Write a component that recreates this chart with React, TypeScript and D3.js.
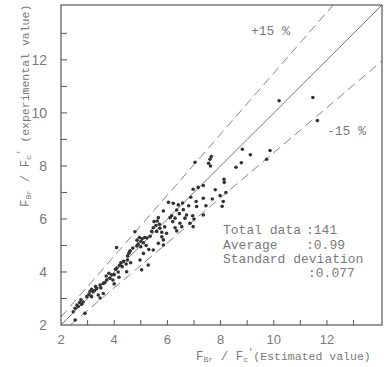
import React from "react";
import * as d3 from "d3";

const estimated: number[] = [
  2.46, 2.53, 2.53, 2.65, 2.7, 2.78, 2.83, 2.9, 2.97, 2.75, 2.6,
  3.09, 3.15, 3.21, 3.27, 3.34, 3.4, 3.47, 3.47, 3.59, 3.59, 3.05, 3.3, 3.15, 3.5,
  3.72, 3.84, 3.9, 3.95, 3.7, 3.8, 4.0, 4.05, 4.09, 4.15, 4.2, 4.1, 3.65, 4.0, 4.18,
  4.3, 4.35, 4.45, 4.47, 4.5, 4.5, 4.55, 4.59, 4.6, 4.25, 4.62, 4.7,
  4.78, 4.86, 4.9, 4.95, 5.0, 5.05, 5.1, 5.15, 5.2, 5.23, 4.97, 5.03, 5.28, 5.0, 4.85, 5.3, 5.1,
  5.41, 5.47, 5.47, 5.57, 5.6, 5.62, 5.66, 5.66, 5.72, 5.79, 5.79, 5.85, 5.85, 5.85, 5.97, 5.35, 5.5, 5.7, 5.9,
  6.04, 6.16, 6.22, 6.29, 6.29, 6.35, 6.41, 6.47, 6.54, 6.57, 6.1, 6.2, 6.45, 6.35, 6.6,
  6.66, 6.72, 6.85, 6.88, 6.95, 6.97, 6.97, 7.0, 7.04, 7.08, 7.1, 7.16, 6.8,
  7.35, 7.35, 7.35, 7.55, 7.6, 7.65, 7.62, 7.69, 7.98, 8.06, 8.1, 8.13, 8.14, 8.2, 7.8, 7.45,
  8.58, 8.78, 8.82, 9.12, 9.73, 9.86, 10.2, 11.47, 11.64,
];

const experimental: number[] = [
  2.5, 2.63, 2.19, 2.7, 2.85, 2.78, 2.87, 2.44, 3.07, 2.95, 2.75,
  3.26, 3.07, 3.26, 3.3, 3.38, 3.13, 3.02, 3.51, 3.19, 3.57, 3.15, 3.45, 3.35, 3.4,
  3.7, 3.76, 3.89, 3.7, 3.85, 3.95, 3.9, 4.1, 4.92, 4.0, 4.25, 4.15, 3.6, 3.55, 3.8,
  4.2, 4.4, 4.3, 4.01, 4.45, 4.6, 4.7, 4.77, 4.8, 4.35, 4.35, 4.9,
  5.52, 5.2, 5.05, 5.3, 4.95, 5.25, 5.1, 5.3, 5.0, 5.28, 4.45, 4.08, 4.26, 5.15, 4.98, 4.85, 4.7,
  5.53, 5.67, 4.83, 5.75, 5.53, 5.92, 6.05, 5.08, 5.65, 5.5, 5.33, 6.3, 5.21, 5.02, 5.46, 5.35, 5.9, 5.8, 5.7,
  6.63, 6.12, 6.59, 6.03, 5.67, 6.34, 6.53, 5.84, 5.71, 6.6, 6.05, 5.9, 6.2, 5.55, 6.35,
  6.03, 6.15, 5.84, 6.82, 6.12, 7.12, 5.71, 6.0, 8.14, 6.66, 6.47, 7.19, 6.5,
  7.26, 6.78, 6.15, 8.1, 8.25, 8.35, 8.0, 6.75, 6.88, 6.48, 6.66, 7.5, 7.38, 7.0, 7.1, 6.5,
  7.95, 8.12, 8.63, 8.42, 8.25, 8.58, 10.46, 10.58, 9.71,
];

const tickValues: number[] = [2, 4, 6, 8, 10, 12];
const minorTicks: number[] = [3, 4, 5, 6, 7, 8, 9, 10, 11, 12, 13];
const bandRatios: number[] = [1.15, 0.85];
const statLabels: string[] = ["Total data", "Average", "Standard deviation"];
const statValues: string[] = [":141", ":0.99", ":0.077"];

const W = 385;
const H = 367;
const LEFT = 61;
const RIGHT = 382;
const TOP = 5;
const BOTTOM = 325;
const DMIN = 2;
const DMAX = 14.07;

export default function App() {
  const x = d3.scaleLinear().domain([DMIN, DMAX]).range([LEFT, RIGHT]);
  const y = d3.scaleLinear().domain([DMIN, DMAX]).range([BOTTOM, TOP]);
  const line = d3
    .line<[number, number]>()
    .x((d) => x(d[0]))
    .y((d) => y(d[1]));

  const points = estimated.map((e, i) => [e, experimental[i]] as [number, number]);

  const bandLine = (r: number): [number, number][] => {
    const x0 = Math.max(DMIN, DMIN / r);
    const x1 = Math.min(DMAX, DMAX / r);
    return [
      [x0, r * x0],
      [x1, r * x1],
    ];
  };

  const mono = "'Liberation Mono', 'DejaVu Sans Mono', monospace";
  const sans = "'Liberation Sans', 'DejaVu Sans', sans-serif";
  const textColor = "#7a7a7a";

  return (
    <svg
      width={W}
      height={H}
      style={{ position: "absolute", left: 0, top: 0, background: "#fff" }}
    >
      <rect x={0} y={0} width={W} height={H} fill="#fff" />
      {/* reference lines */}
      <path d={line([[DMIN, DMIN], [DMAX, DMAX]]) || ""} stroke="#666" strokeWidth={0.9} fill="none" />
      {bandRatios.map((r) => (
        <path
          key={r}
          d={line(bandLine(r)) || ""}
          stroke="#777"
          strokeWidth={0.9}
          strokeDasharray="9,5"
          fill="none"
        />
      ))}
      {/* points */}
      {points.map((p, i) => (
        <circle key={i} cx={x(p[0])} cy={y(p[1])} r={1.8} fill="#333" />
      ))}
      {/* frame */}
      <rect
        x={LEFT}
        y={TOP}
        width={RIGHT - LEFT}
        height={BOTTOM - TOP}
        fill="none"
        stroke="#555"
        strokeWidth={1.2}
      />
      {/* ticks */}
      {minorTicks.map((t) => (
        <g key={"t" + t}>
          <line x1={x(t)} x2={x(t)} y1={BOTTOM} y2={BOTTOM - 5} stroke="#555" strokeWidth={1} />
          <line x1={LEFT} x2={LEFT + 6} y1={y(t)} y2={y(t)} stroke="#555" strokeWidth={1} />
        </g>
      ))}
      {/* tick labels */}
      {tickValues.map((t) => (
        <g key={"l" + t}>
          <text
            x={x(t)}
            y={BOTTOM + 19}
            textAnchor="middle"
            fontFamily={sans}
            fontSize={13}
            fill={textColor}
          >
            {t}
          </text>
          <text
            x={47}
            y={y(t) + 5}
            textAnchor="end"
            fontFamily={sans}
            fontSize={14}
            fill={textColor}
          >
            {t}
          </text>
        </g>
      ))}
      {/* x axis title */}
      <text x={196} y={360} fontFamily={mono} fontSize={11.5} fill={textColor}>
        <tspan fontSize={12.5}>F</tspan>
        <tspan fontSize={8} dy={2}>Br</tspan>
        <tspan dy={-2} fontSize={12.5}> / F</tspan>
        <tspan fontSize={8} dy={2}>c</tspan>
        <tspan fontSize={9} dy={-7}>′</tspan>
        <tspan dy={5}>(Estimated value)</tspan>
      </text>
      {/* y axis title */}
      <text
        transform={`translate(29, 207) rotate(-90)`}
        fontFamily={mono}
        fontSize={11.5}
        fill={textColor}
      >
        <tspan fontSize={12.5}>F</tspan>
        <tspan fontSize={8} dy={2}>Br</tspan>
        <tspan dy={-2} fontSize={12.5}> / F</tspan>
        <tspan fontSize={8} dy={2}>c</tspan>
        <tspan fontSize={9} dy={-7}>′</tspan>
        <tspan dy={5}> (experimental value)</tspan>
      </text>
      {/* band labels */}
      <text x={251} y={35} fontFamily={mono} fontSize={13} fill={textColor}>
        +15 %
      </text>
      <text x={327} y={135} fontFamily={mono} fontSize={13} fill={textColor}>
        -15 %
      </text>
      {/* stats */}
      {statLabels.map((s, i) => (
        <text key={s} x={223} y={234 + i * 14.5} fontFamily={mono} fontSize={13} fill={textColor}>
          {s}
        </text>
      ))}
      <text x={306} y={234} fontFamily={mono} fontSize={13} fill={textColor}>
        {statValues[0]}
      </text>
      <text x={306} y={248.5} fontFamily={mono} fontSize={13} fill={textColor}>
        {statValues[1]}
      </text>
      <text x={308} y={277} fontFamily={mono} fontSize={13} fill={textColor}>
        {statValues[2]}
      </text>
    </svg>
  );
}
